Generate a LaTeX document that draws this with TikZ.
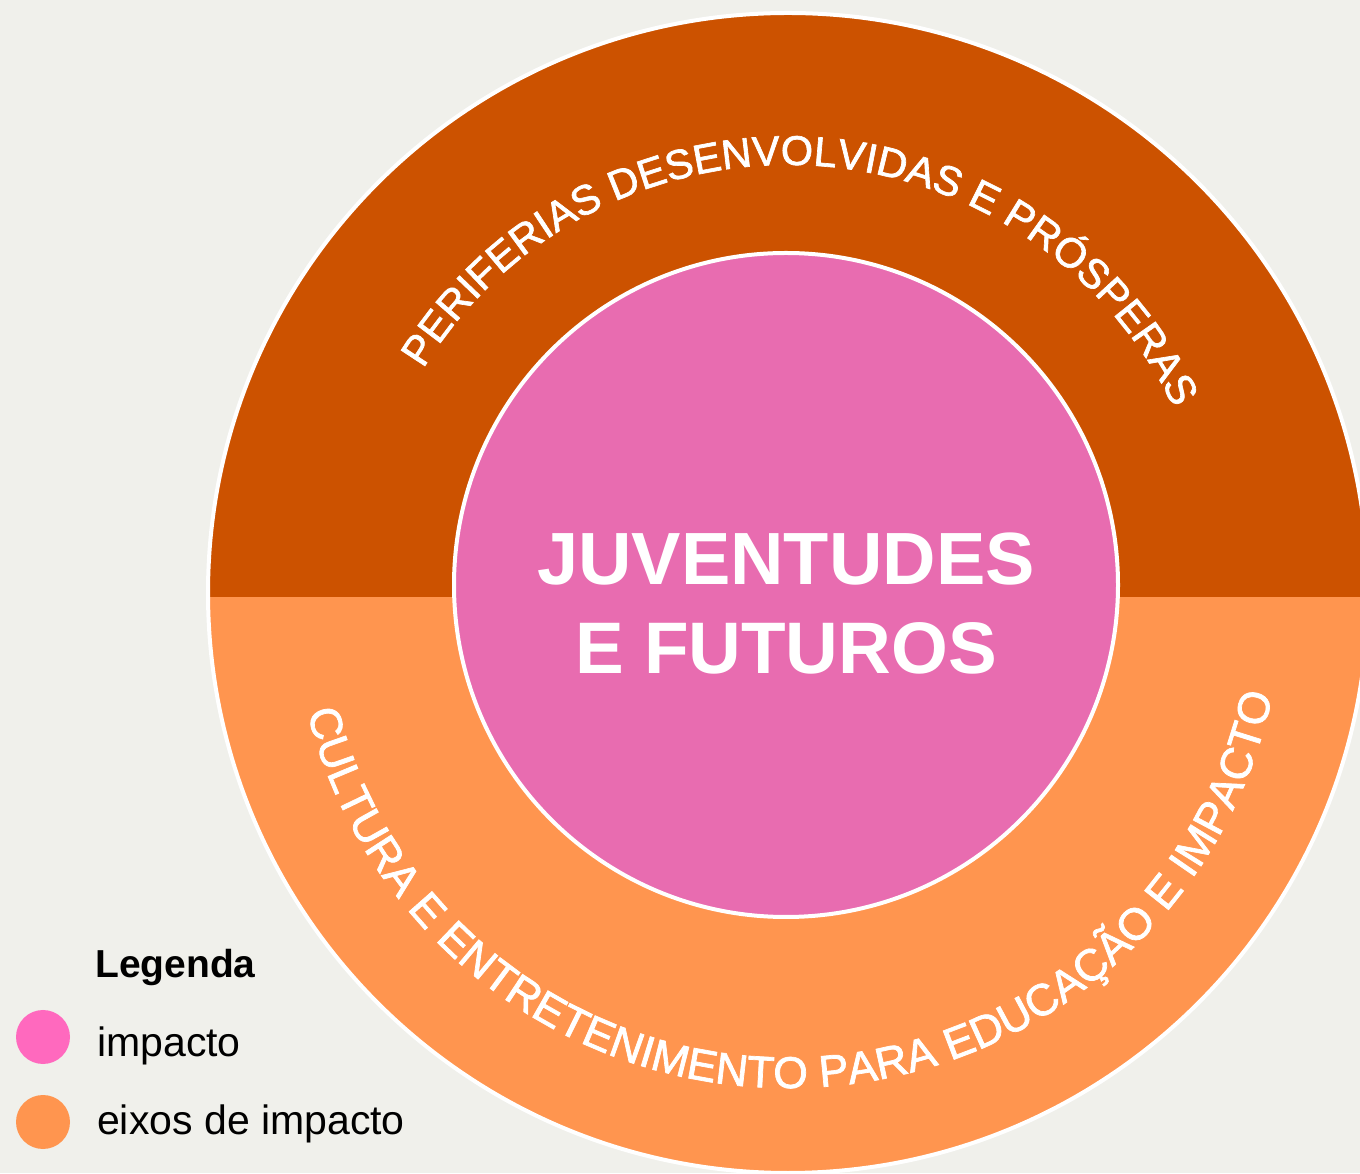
\documentclass[tikz,border=0pt]{standalone}
\usepackage{fontspec}
\setmainfont{Liberation Sans}
\newfontface\arcfont{Liberation Sans}[FakeBold=1.6]
\usepackage{xcolor}
\usetikzlibrary{decorations.text}
\definecolor{fundo}{RGB}{240,240,235}
\definecolor{eixoescuro}{RGB}{204,82,0}
\definecolor{eixo}{RGB}{255,149,79}
\definecolor{rosa}{RGB}{232,108,176}
\definecolor{rosaleg}{RGB}{255,105,190}

\begin{document}
\begin{tikzpicture}[x=1pt,y=1pt,
  ring/.style={white,line width=4pt},
  arctext/.style={decorate,decoration={text along path,text align=center,text color=white,text={#1}}},
  legdot/.style={circle,minimum size=54pt,inner sep=0pt},
  legtext/.style={anchor=base west,inner sep=0pt,font=\fontsize{41}{41}\selectfont}]
\useasboundingbox (0,0) rectangle (1360,1173);
\clip (0,0) rectangle (1360,1173);
\fill[fundo] (0,0) rectangle (1360,1173); %background
\coordinate (c) at (788,580);
% outer ring, two halves
\fill[eixo] (c) circle[radius=580];
\begin{scope}
\clip (0,576) rectangle (1360,1173);
\fill[eixoescuro] (c) circle[radius=580];
\end{scope}
\draw[ring] (c) circle[radius=580];
\node[circle,fill=rosa,draw=white,line width=4pt,minimum size=664pt,inner sep=0pt] (impacto) at (786,588) {};
% texts on the ring
\path[arctext={|\arcfont\fontsize{41.5}{41.5}\selectfont|PERIFERIAS DESENVOLVIDAS E PRÓSPERAS}]
  (c) ++(158:428) arc[start angle=158,end angle=16,radius=428];
\path[arctext={|\arcfont\fontsize{44.5}{44.5}\selectfont|CULTURA E ENTRETENIMENTO PARA EDUCAÇÃO E IMPACTO}]
  (c) ++(186:495) arc[start angle=186,end angle=356,radius=495];
\node[white,anchor=base,inner sep=0pt,font=\bfseries\fontsize{74}{89}\selectfont] (titulo) at (786,588) {JUVENTUDES};
\node[white,anchor=base,inner sep=0pt,font=\bfseries\fontsize{73}{89}\selectfont] (subtitulo) at (786,499) {E FUTUROS};
% legend
\node[anchor=base west,inner sep=0pt,font=\bfseries\fontsize{39}{39}\selectfont] (legenda) at (95,195) {Legenda};
\node[legdot,fill=rosaleg] (dotimp) at (43,136) {};
\node[legtext] (txtimp) at (97,117) {impacto};
\node[legdot,fill=eixo] (doteixo) at (43,51) {};
\node[legtext] (txteixo) at (97,39) {eixos de impacto};
\end{tikzpicture}
\end{document}
